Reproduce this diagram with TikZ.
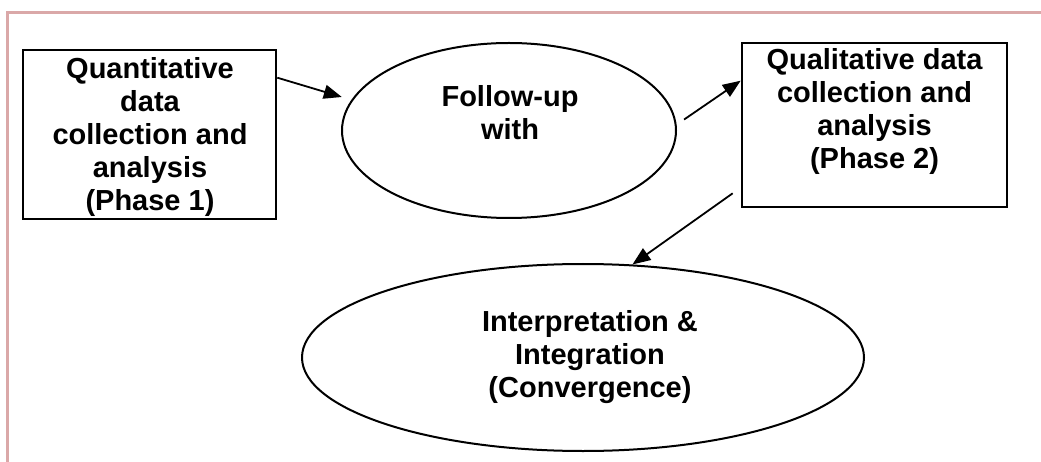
\documentclass[tikz,border=0pt]{standalone}
\usepackage{fontspec}
\setmainfont{Liberation Sans}
\usetikzlibrary{arrows.meta,shapes.geometric,calc}

\definecolor{framepink}{RGB}{218,168,168}

\tikzset{
  stepbox/.style={draw, line width=2.6pt, inner sep=0pt},
  oval/.style={draw, ellipse, line width=2pt, inner sep=0pt},
  lbl/.style={align=center, inner sep=0pt,
    font=\fontsize{29}{33}\selectfont\bfseries},
  arr/.style={line width=1.8pt, -{Triangle[length=18pt,width=14pt]}},
  frameline/.style={draw=framepink, line width=2.2pt}
}

\begin{document}
\begin{tikzpicture}[x=1pt,y=-1pt]
  \useasboundingbox (0,0) rectangle (1041,462);

  % page frame
  \draw[frameline] (7.5,462) -- (7.5,12.5) -- (1041,12.5);

  % phase 1 box
  \node[stepbox, minimum width=253pt, minimum height=169pt] (q1) at (149.5,134.5) {};
  \node[lbl] (q1t) at (150,137) {Quantitative\\data\\collection and\\analysis\\(Phase 1)};

  % follow-up ellipse
  \node[oval, minimum width=334pt, minimum height=175pt] (f1) at (509,130.5) {};
  \node[lbl] (f1t) at (510,113) {Follow-up\\with};

  % phase 2 box
  \node[stepbox, minimum width=265pt, minimum height=164pt] (q2) at (874.5,125) {};
  \node[lbl] (q2t) at (874.5,112) {Qualitative data\\collection and\\analysis\\(Phase 2)};

  % interpretation ellipse
  \node[oval, minimum width=562pt, minimum height=187pt] (e2) at (583,357.5) {};
  \node[lbl] (e2t) at (590,357) {Interpretation \&\\Integration\\(Convergence)};

  % connectors
  \draw[arr, shorten >=10pt] ($(q1.north east)+(0,29)$) -- (f1.169);
  \draw[arr, shorten <=9pt] (f1.2) -- ($(q2.north west)+(0,39)$);
  \draw[arr] ($(q2.south west)+(-8,-15)$) -- (e2.62);
\end{tikzpicture}
\end{document}
